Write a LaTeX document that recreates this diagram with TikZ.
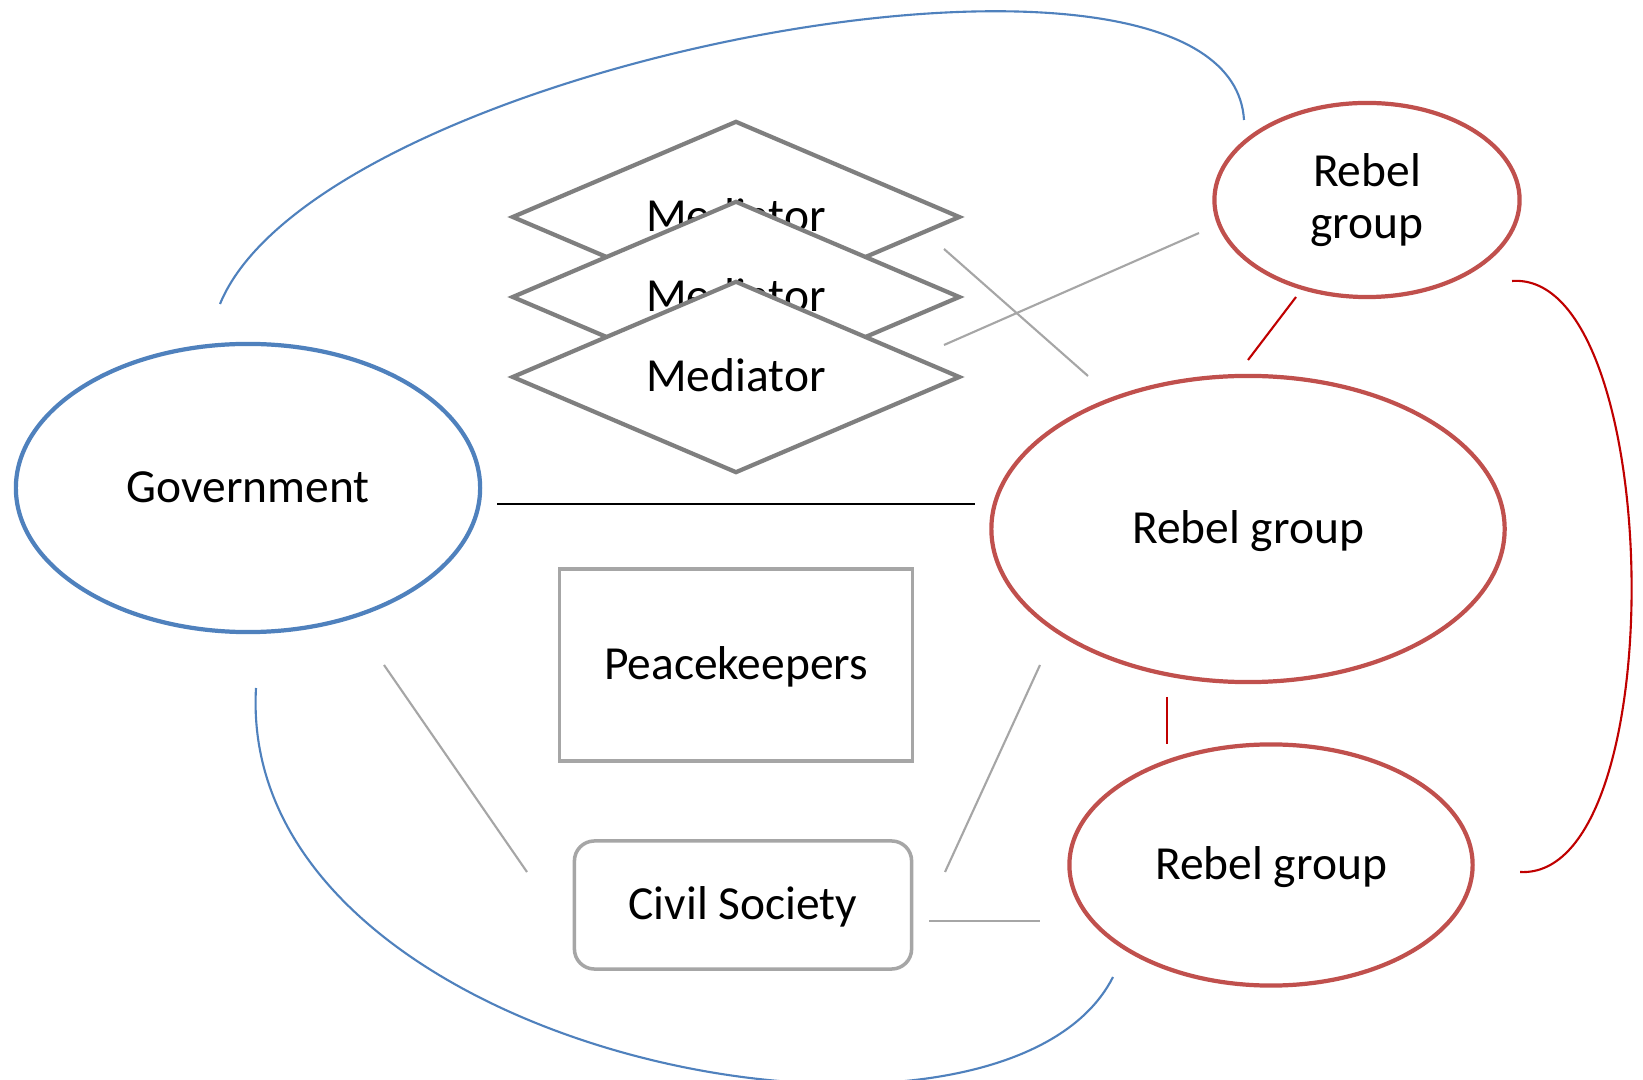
\documentclass[tikz,border=0pt]{standalone}
\usepackage{fontspec}
\setmainfont{Carlito}
\usetikzlibrary{shapes.geometric}
\definecolor{govblue}{HTML}{4F81BD}
\definecolor{rebred}{HTML}{C0504D}
\definecolor{linkred}{HTML}{C00000}
\definecolor{medgray}{HTML}{7F7F7F}
\definecolor{boxgray}{HTML}{A6A6A6}

\begin{document}
\begin{tikzpicture}[x=0.01cm,y=-0.01cm,font=\fontsize{13.5}{14.7}\selectfont,
    one line/.style={text height=11.2pt,text depth=3pt}]
  \useasboundingbox[fill=white] (0,0) rectangle (1643,1080);

  % actors
  \begin{scope}[every node/.style={ellipse,line width=1.2pt,draw,fill=white,align=center,inner sep=0pt}]
      \node[draw=govblue,one line,minimum width=4.64cm,minimum height=2.88cm] (g) at (248,488) {Government};

      \node[draw=rebred,minimum width=3.05cm,minimum height=1.94cm] (r1) at (1367,200) {Rebel\\group};
      \node[draw=rebred,one line,minimum width=5.13cm,minimum height=3.06cm] (r2) at (1248,529) {Rebel group};
      \node[draw=rebred,one line,minimum width=4.03cm,minimum height=2.41cm] (r3) at (1271,865) {Rebel group};
  \end{scope}

  % third parties
  \begin{scope}[every node/.style={diamond,aspect=2.33,draw=medgray,line width=1.2pt,fill=white,inner sep=0pt,one line,minimum width=4.48cm,minimum height=1.92cm}]
      \node (m1) at (736,217) {Mediator};
      \node (m2) at (736,297) {Mediator};
      \node (m3) at (736,377) {Mediator};
  \end{scope}

  \begin{scope}[every node/.style={draw=boxgray,line width=1pt,fill=white,inner sep=0pt,one line}]
      \node[rectangle,minimum width=3.53cm,minimum height=1.92cm] (pk) at (736,665) {Peacekeepers};
      \node[rectangle,rounded corners=0.2cm,minimum width=3.37cm,minimum height=1.28cm] (cs) at (743,905) {Civil Society};
  \end{scope}

  % free ends of the links
  \coordinate (g1) at (497,504);   \coordinate (r2a) at (975,504);
  \coordinate (m1a) at (944,249);  \coordinate (r2b) at (1088,376);
  \coordinate (m2a) at (944,345);  \coordinate (r1a) at (1199,233);
  \coordinate (g2) at (384,665);   \coordinate (cs1) at (527,872);
  \coordinate (r2c) at (1040,665); \coordinate (cs2) at (945,872);
  \coordinate (cs3) at (929,921);  \coordinate (r3a) at (1040,921);
  \coordinate (r1b) at (1296,297); \coordinate (r2d) at (1248,360);
  \coordinate (r2e) at (1167,697); \coordinate (r3b) at (1167,744);
  \coordinate (r1c) at (1512,281); \coordinate (r3c) at (1520,872);
  \coordinate (g3) at (220,304);   \coordinate (r1d) at (1244,120);
  \coordinate (g4) at (256,688);   \coordinate (r3d) at (1113,977);

  \tikzset{main link/.style={black, line width=0.8pt}}
  \tikzset{gray link/.style={boxgray, line width=0.6pt}}
  \tikzset{red link/.style={linkred, line width=0.6pt}}
  \tikzset{blue link/.style={govblue, line width=0.6pt}}

  \draw[main link] (g1) -- (r2a);

  \draw[gray link] (m1a) -- (r2b);
  \draw[gray link] (m2a) -- (r1a);
  \draw[gray link] (g2) -- (cs1);
  \draw[gray link] (r2c) -- (cs2);
  \draw[gray link] (cs3) -- (r3a);

  \draw[red link] (r1b) -- (r2d);
  \draw[red link] (r2e) -- (r3b);
  \draw[red link] (r1c) .. controls (1665,270) and (1675,880) .. (r3c);

  \draw[blue link] (g3) .. controls (320,60) and (1230,-110) .. (r1d);
  \draw[blue link] (g4) .. controls (235,1060) and (1000,1200) .. (r3d);

\end{tikzpicture}
\end{document}
